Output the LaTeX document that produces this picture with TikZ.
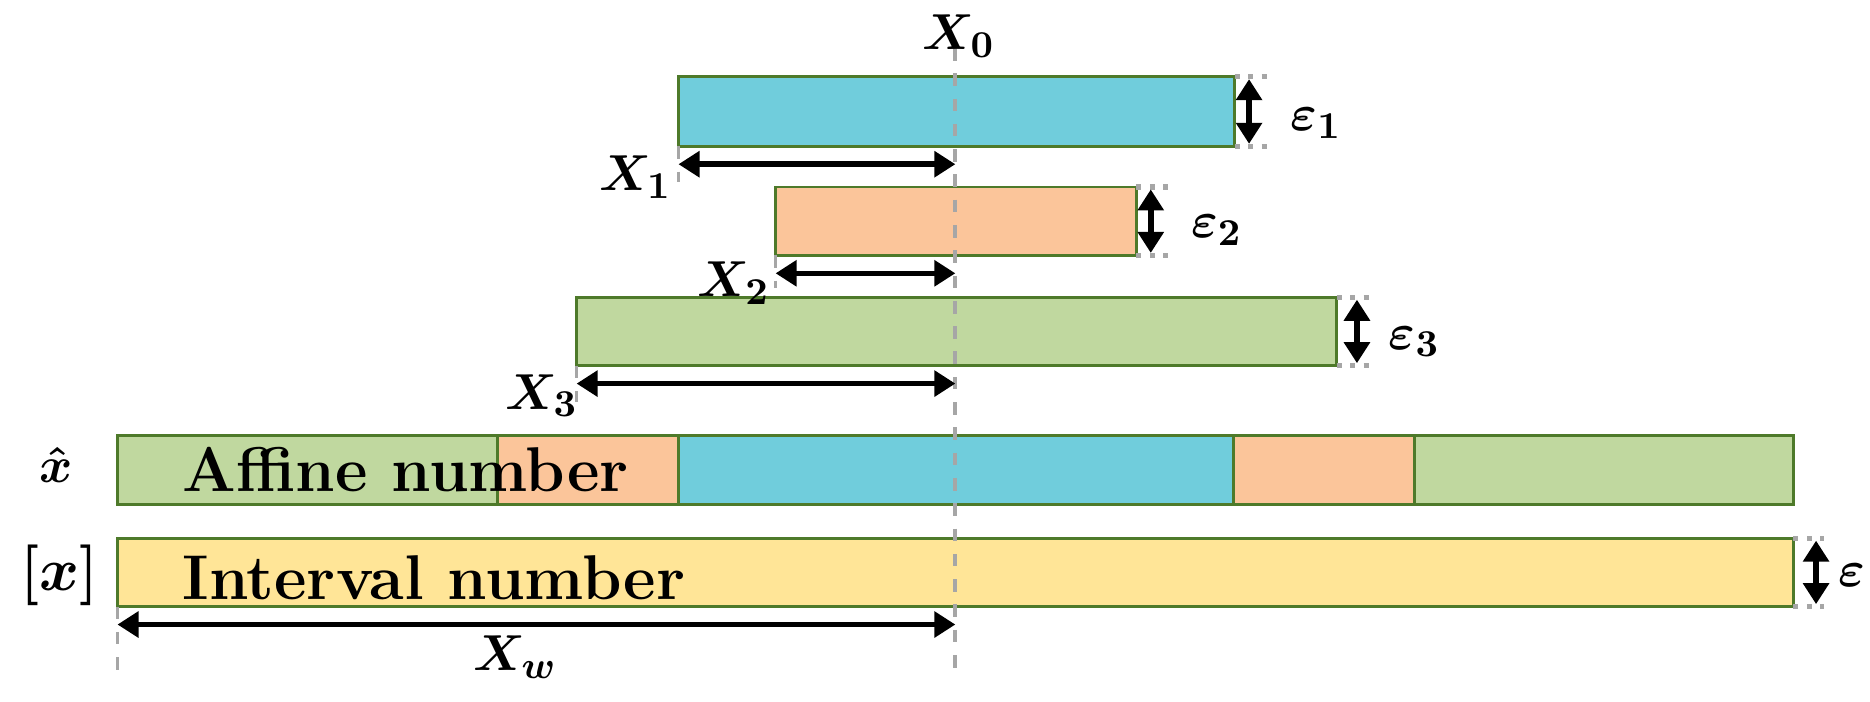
\documentclass[tikz,border=0pt]{standalone}
\usepackage{bm}
\usetikzlibrary{arrows.meta}
\definecolor{cy}{HTML}{70CDDC}
\definecolor{or}{HTML}{FBC59A}
\definecolor{gr}{HTML}{C0D89F}
\definecolor{ye}{HTML}{FFE597}
\definecolor{bd}{HTML}{4E7A2A}
\begin{document}
\begin{tikzpicture}[x=0.01cm,y=-0.01cm,
 box/.style={draw=bd,line width=0.7pt},
 dim/.style={line width=1.3pt,{Triangle[length=5pt,width=6pt]}-{Triangle[length=5pt,width=6pt]}},
 guide/.style={gray!70,dashed,line width=0.9pt},
 dots/.style={gray!70,dotted,line width=1.2pt},
 lab/.style={font=\fontsize{13}{15}\selectfont},
 big/.style={font=\fontsize{15}{17}\selectfont\bfseries,anchor=west}]
\useasboundingbox (0,0) rectangle (1560,585);
% boxes
\path[box,fill=cy] (566,64) rectangle (1030,122);
\path[box,fill=or] (647,156) rectangle (948,213);
\path[box,fill=gr] (481,248) rectangle (1115,305);
\path[box,fill=gr] (98,363) rectangle (415,421);
\path[box,fill=or] (415,363) rectangle (566,421);
\path[box,fill=cy] (566,363) rectangle (1029,421);
\path[box,fill=or] (1029,363) rectangle (1180,421);
\path[box,fill=gr] (1180,363) rectangle (1496,421);
\path[box,fill=ye] (98,449) rectangle (1496,506);
% guides
\draw[guide] (797,40) -- (797,565);
\draw[guide] (566,122) -- (566,152);
\draw[guide] (647,213) -- (647,240);
\draw[guide] (481,305) -- (481,335);
\draw[guide] (98,506) -- (98,560);
\draw[dots] (1030,64) -- (1057,64) (1030,122) -- (1057,122);
\draw[dots] (948,156) -- (975,156) (948,213) -- (975,213);
\draw[dots] (1115,248) -- (1142,248) (1115,305) -- (1142,305);
\draw[dots] (1496,449) -- (1522,449) (1496,506) -- (1522,506);
% arrows
\coordinate (a1) at (566,137); \coordinate (a1e) at (797,137);
\draw[dim] (a1) -- (a1e);
\coordinate (a2) at (647,228); \coordinate (a2e) at (797,228);
\draw[dim] (a2) -- (a2e);
\coordinate (a3) at (481,320); \coordinate (a3e) at (797,320);
\draw[dim] (a3) -- (a3e);
\coordinate (aw) at (98,521); \coordinate (awe) at (797,521);
\draw[dim] (aw) -- (awe);
\coordinate (e1) at (1042,66); \coordinate (e1e) at (1042,120);
\draw[dim] (e1) -- (e1e);
\coordinate (e2) at (960,158); \coordinate (e2e) at (960,211);
\draw[dim] (e2) -- (e2e);
\coordinate (e3) at (1132,250); \coordinate (e3e) at (1132,303);
\draw[dim] (e3) -- (e3e);
\coordinate (e4) at (1515,451); \coordinate (e4e) at (1515,504);
\draw[dim] (e4) -- (e4e);
% labels
\node[lab] (lx0) at (800,30) {$\bm{X_0}$};
\node[lab] (lx1) at (530,148) {$\bm{X_1}$};
\node[lab] (lx2) at (612,236) {$\bm{X_2}$};
\node[lab] (lx3) at (452,330) {$\bm{X_3}$};
\node[lab] (lxw) at (430,548) {$\bm{X_w}$};
\node[lab] (le1) at (1098,103) {$\bm{\varepsilon_1}$};
\node[lab] (le2) at (1015,192) {$\bm{\varepsilon_2}$};
\node[lab] (le3) at (1180,285) {$\bm{\varepsilon_3}$};
\node[lab] (le4) at (1545,480) {$\bm{\varepsilon}$};
\node[lab] (lxh) at (47,388) {$\bm{\hat{x}}$};
\node[lab,font=\fontsize{15}{17}\selectfont] (lxi) at (50,480) {$\bm{[x]}$};
\node[big] (ta) at (140,392) {Affine number};
\node[big] (ti) at (140,482) {Interval number};
\end{tikzpicture}
\end{document}
